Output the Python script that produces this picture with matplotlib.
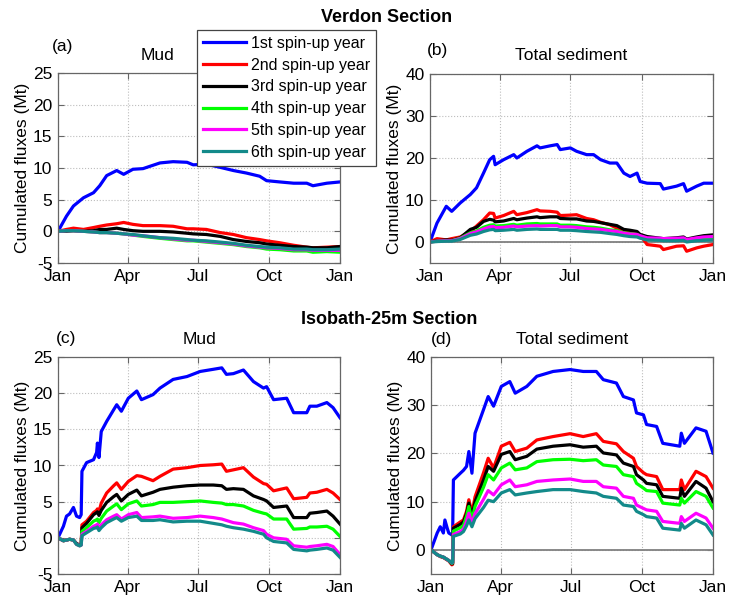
import matplotlib
matplotlib.use("Agg")
import matplotlib.pyplot as plt
from matplotlib.lines import Line2D

plt.rcParams["font.family"] = ["Liberation Sans", "DejaVu Sans"]
plt.rcParams["font.size"] = 11
plt.rcParams["axes.unicode_minus"] = False

# Day of year for each sampled value
days_a = [0, 11, 20, 33, 46, 54, 63, 76, 85, 97, 110, 132, 149, 167, 175, 192,
          210, 227, 244, 261, 270, 287, 305, 322, 330, 348, 365]
days_b = [0, 9, 21, 28, 39, 52, 60, 69, 77, 82, 84, 95, 108, 112, 125, 138, 142,
          155, 164, 168, 181, 189, 202, 211, 220, 232, 241, 250, 258, 267, 271,
          280, 297, 301, 318, 327, 331, 344, 353, 365]
days_c = [0, 7, 11, 15, 20, 24, 28, 30, 31, 37, 46, 50, 51, 53, 56, 63, 72, 76,
          82, 91, 102, 108, 123, 132, 149, 167, 184, 201, 212, 218, 227, 240,
          253, 266, 270, 279, 296, 305, 322, 326, 335, 348, 356, 365]
days_d = [0, 8, 12, 16, 18, 21, 23, 27, 28, 29, 38, 42, 46, 49, 53, 57, 68, 74,
          81, 91, 102, 109, 124, 137, 158, 180, 197, 214, 223, 240, 249, 262,
          266, 275, 279, 292, 300, 322, 324, 328, 343, 356, 365]

# Verdon section, mud (Mt)
verdon_mud = [
    [0, 2.4, 4.0, 5.3, 6.1, 7.2, 8.8, 9.6, 9.0, 9.8, 9.9, 10.8, 11.0, 10.9, 10.5,
     10.6, 10.1, 9.6, 9.2, 8.7, 8.0, 7.8, 7.6, 7.6, 7.2, 7.6, 7.8],
    [0, 0.3, 0.5, 0.3, 0.6, 0.8, 1.0, 1.2, 1.4, 1.1, 0.9, 0.9, 0.8, 0.4, 0.4,
     0.3, -0.2, -0.5, -1.0, -1.3, -1.5, -1.8, -2.2, -2.5, -2.6, -2.5, -2.4],
    [0, 0.0, 0.1, 0.0, 0.1, 0.3, 0.3, 0.5, 0.3, 0.1, 0.0, 0.0, -0.1, -0.3, -0.4,
     -0.5, -0.8, -1.3, -1.6, -1.8, -2.0, -2.2, -2.4, -2.5, -2.6, -2.6, -2.4],
    [0, 0.1, 0.1, 0.0, -0.1, -0.2, -0.2, -0.3, -0.4, -0.6, -0.8, -1.1, -1.3, -1.5,
     -1.5, -1.7, -1.9, -2.1, -2.4, -2.6, -2.8, -2.9, -3.1, -3.1, -3.3, -3.2, -3.3],
    [0, 0.1, 0.1, 0.0, -0.1, -0.2, -0.2, -0.3, -0.4, -0.6, -0.7, -1.0, -1.2, -1.4,
     -1.4, -1.6, -1.8, -2.0, -2.3, -2.5, -2.6, -2.7, -2.9, -2.9, -3.0, -3.0, -3.0],
    [0, 0.1, 0.1, 0.0, -0.1, -0.2, -0.2, -0.3, -0.4, -0.5, -0.7, -1.0, -1.1, -1.3,
     -1.4, -1.5, -1.7, -1.9, -2.2, -2.4, -2.5, -2.6, -2.8, -2.8, -2.9, -2.9, -2.8],
]

# Verdon section, total sediment (Mt)
verdon_total = [
    [0, 4.5, 8.5, 7.3, 9.3, 11.3, 12.9, 16.4, 19.6, 20.4, 18.4, 19.6, 20.8, 20.0,
     21.6, 22.9, 22.4, 22.9, 23.2, 22.0, 22.4, 21.6, 20.8, 20.8, 19.6, 18.8, 18.8,
     16.4, 15.6, 16.4, 14.4, 14.0, 13.9, 12.6, 13.3, 13.9, 12.1, 13.3, 14.0, 14.0],
    [0, 0.8, 0.5, 0.8, 1.2, 2.5, 3.8, 5.3, 6.9, 6.8, 5.7, 6.3, 7.3, 6.5, 7.0, 7.7,
     7.4, 7.3, 7.1, 6.3, 6.4, 6.5, 5.6, 5.3, 4.7, 4.1, 3.3, 2.9, 2.5, 2.0, 1.7,
     -0.6, -1.0, -1.8, -1.0, -0.9, -2.2, -1.4, -1.0, -0.6],
    [0, 0.3, 0.5, 0.4, 1.0, 3.0, 3.5, 4.9, 5.4, 5.2, 4.8, 5.0, 5.6, 5.3, 5.7, 6.0,
     5.8, 6.0, 6.0, 5.6, 5.5, 5.5, 5.0, 4.9, 4.6, 4.2, 3.9, 3.0, 2.8, 2.5, 1.8,
     1.3, 0.9, 0.8, 1.0, 1.2, 0.7, 1.2, 1.5, 1.7],
    [0, 0.2, 0.3, 0.3, 0.9, 2.2, 2.6, 3.5, 4.0, 4.1, 3.8, 3.9, 4.2, 4.0, 4.3, 4.4,
     4.3, 4.3, 4.3, 4.0, 4.0, 3.9, 3.6, 3.5, 3.3, 2.9, 2.7, 2.2, 2.0, 1.8, 1.4,
     0.8, 0.6, 0.4, 0.5, 0.6, 0.2, 0.6, 0.8, 0.9],
    [0, 0.2, 0.3, 0.3, 0.8, 2.0, 2.4, 3.1, 3.6, 3.7, 3.4, 3.5, 3.8, 3.6, 3.8, 3.9,
     3.8, 3.9, 3.9, 3.6, 3.6, 3.5, 3.2, 3.1, 3.0, 2.7, 2.5, 2.1, 1.9, 1.8, 1.5,
     1.0, 0.9, 0.8, 0.9, 1.0, 0.6, 1.0, 1.2, 1.3],
    [0, 0.1, 0.2, 0.2, 0.6, 1.6, 1.9, 2.5, 2.9, 3.0, 2.7, 2.8, 3.0, 2.8, 3.0, 3.1,
     3.0, 3.0, 3.0, 2.8, 2.8, 2.7, 2.5, 2.4, 2.3, 2.0, 1.8, 1.5, 1.3, 1.2, 0.9,
     0.5, 0.4, 0.3, 0.3, 0.4, 0.0, 0.3, 0.4, 0.5],
]

# Isobath-25m section, mud (Mt)
isobath_mud = [
    [0, 1.6, 3.0, 3.3, 4.2, 3.0, 2.8, 3.2, 9.2, 10.4, 10.8, 11.8, 13.1, 11.1, 14.7,
     16.1, 17.7, 18.4, 17.5, 19.3, 20.3, 19.1, 19.8, 20.7, 21.9, 22.3, 23.0, 23.3,
     23.5, 22.6, 22.7, 23.2, 21.6, 20.7, 20.9, 19.1, 19.3, 17.3, 17.3, 18.2, 18.2,
     18.7, 18.0, 16.6],
    [0, -0.4, -0.3, -0.2, -0.3, -0.8, -1.0, -0.9, 1.8, 2.3, 3.5, 3.8, 4.0, 3.6,
     4.8, 6.2, 7.2, 7.6, 6.7, 7.8, 8.6, 8.5, 7.9, 8.5, 9.5, 9.7, 10.0, 10.1, 10.2,
     9.2, 9.4, 9.7, 8.4, 7.5, 7.4, 6.5, 6.9, 5.4, 5.6, 6.2, 6.3, 6.7, 6.2, 5.3],
    [0, -0.4, -0.3, -0.2, -0.3, -0.8, -1.0, -0.9, 1.4, 2.0, 3.2, 3.5, 3.6, 3.1,
     3.8, 4.9, 5.7, 6.0, 5.1, 6.0, 6.6, 5.8, 6.3, 6.7, 7.0, 7.2, 7.3, 7.3, 7.2,
     6.7, 6.8, 6.7, 5.8, 5.3, 5.1, 4.2, 4.4, 2.8, 2.8, 3.4, 3.5, 3.7, 3.0, 1.9],
    [0, -0.4, -0.3, -0.2, -0.3, -0.9, -1.1, -1.0, 0.9, 1.4, 2.3, 2.5, 2.6, 2.1,
     2.7, 3.7, 4.4, 4.7, 3.9, 4.7, 5.1, 4.4, 4.6, 4.9, 4.9, 5.0, 5.1, 4.9, 4.8,
     4.6, 4.6, 4.4, 3.8, 3.4, 3.3, 2.6, 2.6, 1.2, 1.3, 1.5, 1.5, 1.6, 1.2, 0.2],
    [0, -0.4, -0.3, -0.2, -0.3, -0.9, -1.1, -1.0, 0.5, 0.9, 1.6, 1.8, 1.9, 1.4,
     1.8, 2.5, 3.0, 3.2, 2.6, 3.2, 3.5, 2.8, 2.9, 3.0, 2.7, 2.8, 3.0, 2.8, 2.6,
     2.4, 2.1, 1.9, 1.4, 1.0, 0.5, 0.0, -0.2, -1.1, -1.3, -1.2, -1.1, -0.9, -1.2,
     -2.3],
    [0, -0.4, -0.3, -0.2, -0.3, -0.9, -1.1, -1.0, 0.3, 0.7, 1.3, 1.4, 1.5, 1.0,
     1.4, 2.1, 2.6, 2.8, 2.3, 2.8, 3.0, 2.4, 2.4, 2.5, 2.2, 2.3, 2.3, 2.0, 1.8,
     1.6, 1.4, 1.2, 0.9, 0.5, 0.0, -0.5, -0.7, -1.6, -1.8, -1.7, -1.6, -1.4, -1.7,
     -2.7],
]

# Isobath-25m section, total sediment (Mt)
isobath_total = [
    [0, 3.5, 4.8, 3.5, 6.2, 4.5, 3.5, 3.1, 3.3, 14.5, 15.9, 16.5, 17.3, 20.4, 15.9,
     24.2, 29.1, 31.8, 29.8, 33.9, 34.9, 32.5, 33.9, 36.0, 37.0, 37.4, 37.0, 37.0,
     35.3, 34.6, 31.8, 31.1, 28.4, 28.0, 26.0, 25.6, 22.1, 21.5, 24.2, 22.1, 25.3,
     24.6, 20.1],
    [0, -1.0, -1.4, -1.6, -1.8, -2.1, -2.3, -3.1, -3.0, 4.8, 5.8, 6.2, 8.0, 10.4,
     7.6, 11.0, 16.0, 19.0, 17.0, 21.5, 22.3, 20.4, 21.1, 22.8, 23.5, 24.1, 23.5,
     24.1, 22.5, 22.0, 20.4, 19.0, 17.3, 16.0, 15.6, 15.2, 12.5, 12.5, 14.5, 12.5,
     16.3, 15.2, 12.8],
    [0, -1.0, -1.3, -1.5, -1.7, -2.0, -2.2, -2.9, -2.8, 4.5, 5.3, 5.8, 7.5, 9.7,
     6.9, 10.0, 14.5, 17.3, 16.3, 19.8, 20.4, 18.7, 19.4, 20.9, 21.5, 21.8, 21.3,
     21.5, 20.1, 19.7, 18.0, 17.3, 15.6, 14.5, 13.8, 13.5, 11.1, 10.7, 12.8, 11.1,
     14.2, 12.8, 10.0],
    [0, -1.0, -1.3, -1.5, -1.7, -2.0, -2.2, -2.8, -2.7, 3.9, 4.6, 5.1, 7.0, 9.0,
     6.2, 9.0, 13.0, 15.6, 14.5, 17.0, 18.0, 16.6, 17.0, 18.3, 18.7, 18.8, 18.5,
     18.7, 17.6, 17.3, 15.6, 15.2, 13.8, 12.8, 12.3, 12.1, 9.7, 9.3, 10.7, 9.7,
     12.1, 11.1, 8.7],
    [0, -1.0, -1.3, -1.5, -1.7, -2.0, -2.2, -2.7, -2.6, 3.2, 3.8, 4.3, 5.9, 7.6,
     5.5, 7.5, 10.5, 12.3, 11.4, 13.5, 14.5, 13.1, 13.5, 14.2, 14.5, 14.7, 14.2,
     14.2, 13.1, 12.8, 11.1, 10.7, 9.3, 8.6, 8.3, 8.0, 5.9, 5.5, 6.9, 5.9, 7.6,
     6.6, 4.5],
    [0, -1.0, -1.3, -1.5, -1.7, -2.0, -2.2, -2.7, -2.6, 2.8, 3.3, 3.8, 5.0, 6.2,
     4.8, 6.5, 8.8, 10.3, 10.0, 11.8, 12.5, 11.4, 11.8, 12.1, 12.5, 12.5, 12.1,
     11.8, 11.1, 10.7, 9.3, 9.0, 8.0, 7.3, 6.9, 6.6, 4.5, 4.1, 5.5, 4.5, 6.2,
     5.2, 3.1],
]

year_labels = ["1st spin-up year", "2nd spin-up year", "3rd spin-up year",
               "4th spin-up year", "5th spin-up year", "6th spin-up year"]
colors = ["#0000ff", "#ff0000", "#000000", "#00ff00", "#ff00ff", "#138a8a"]

month_ticks = [0, 90, 181, 273, 365]
month_labels = ["Jan", "Apr", "Jul", "Oct", "Jan"]

fig = plt.figure(figsize=(7.29, 5.99), dpi=100)

W, H = 729.0, 599.0


def add_axes_px(x0, y0, x1, y1):
    return fig.add_axes([x0 / W, 1 - y1 / H, (x1 - x0) / W, (y1 - y0) / H])


ax_a = add_axes_px(58, 73, 340, 263)
ax_b = add_axes_px(430, 74, 713, 263)
ax_c = add_axes_px(58, 357, 340, 574)
ax_d = add_axes_px(431, 357, 713, 574)

panels = [
    (ax_a, days_a, verdon_mud, (-5, 25), list(range(-5, 26, 5)), False),
    (ax_b, days_b, verdon_total, (-5, 40), list(range(0, 41, 10)), True),
    (ax_c, days_c, isobath_mud, (-5, 25), list(range(-5, 26, 5)), False),
    (ax_d, days_d, isobath_total, (-5, 40), list(range(0, 41, 10)), True),
]

for ax, days, series, ylim, yticks, zero_line in panels:
    if zero_line:
        ax.axhline(0, color="#808080", lw=1.3, zorder=1)
    for vals, c in zip(series, colors):
        ax.plot(days, vals, color=c, lw=2.3, zorder=2)
    ax.set_xlim(0, 365)
    ax.set_ylim(*ylim)
    ax.set_xticks(month_ticks)
    ax.set_xticklabels(month_labels)
    ax.set_yticks(yticks)
    ax.grid(True, linestyle=":", color="#bdbdbd", lw=0.8)
    ax.set_axisbelow(True)
    ax.tick_params(direction="in", length=4, width=0.8, top=True, right=True,
                   labelsize=12.5, pad=4, colors="#666666", labelcolor="black")
    for sp in ax.spines.values():
        sp.set_color("#666666")
        sp.set_linewidth(0.9)
    ax.set_ylabel("Cumulated fluxes (Mt)", fontsize=12.5, labelpad=2)

# Panel titles and letters
fig.text(157 / W, 1 - 55 / H, "Mud", ha="center", va="center", fontsize=12.5)
fig.text(63 / W, 1 - 46 / H, "(a)", ha="center", va="center", fontsize=12.5)
fig.text(571 / W, 1 - 55 / H, "Total sediment", ha="center", va="center", fontsize=12.5)
fig.text(437 / W, 1 - 51 / H, "(b)", ha="center", va="center", fontsize=12.5)
fig.text(199 / W, 1 - 339 / H, "Mud", ha="center", va="center", fontsize=12.5)
fig.text(66 / W, 1 - 338 / H, "(c)", ha="center", va="center", fontsize=12.5)
fig.text(572 / W, 1 - 339 / H, "Total sediment", ha="center", va="center", fontsize=12.5)
fig.text(441 / W, 1 - 340 / H, "(d)", ha="center", va="center", fontsize=12.5)

fig.text(387 / W, 1 - 18 / H, "Verdon Section", ha="center", va="center",
         fontsize=13, fontweight="bold")
fig.text(389 / W, 1 - 320 / H, "Isobath-25m Section", ha="center", va="center",
         fontsize=13, fontweight="bold")

handles = [Line2D([], [], color=c, lw=2.3) for c in colors]
leg = fig.legend(handles, year_labels, loc="upper left",
                 bbox_to_anchor=(197 / W, 1 - 30 / H), fontsize=11.5,
                 fancybox=False, framealpha=1, edgecolor="#444444",
                 handlelength=2.7, handletextpad=0.3, labelspacing=0.42,
                 borderpad=0.38, borderaxespad=0)
leg.get_frame().set_linewidth(0.9)
leg.set_zorder(10)

fig.savefig("out.png", dpi=100)
